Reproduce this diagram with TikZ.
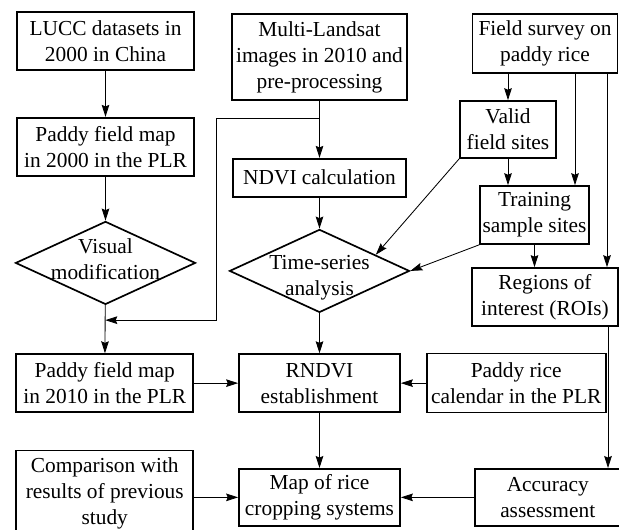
\documentclass[tikz,border=0pt]{standalone}
\usepackage{fontspec}
\setmainfont{Liberation Serif}
\usepackage{tikz}
\usetikzlibrary{positioning,shapes.geometric,arrows.meta,calc}

\begin{document}
\begin{tikzpicture}[x=0.025cm, y=-0.025cm,
    font=\fontsize{15.2}{18.5}\selectfont,
    box/.style={rectangle,draw,line width=1.2pt,align=center,inner sep=1pt},
    decision/.style={diamond,draw,line width=1.2pt,minimum width=4.5cm,minimum height=2.075cm,inner sep=0pt},
    flow/.style={-{Stealth[length=3mm,width=1.9mm,inset=0.4mm]},line width=0.6pt}]

    \useasboundingbox (0,0) rectangle (619,530);

    % left column
    \node[box,minimum width=4.425cm,minimum height=1.45cm] (lucc) at (105.5,41) {LUCC datasets in\\2000 in China};
    \node[box,minimum width=4.425cm,minimum height=1.45cm,below=1.15cm of lucc] (map2000) {Paddy field map\\in 2000 in the PLR};
    \node[decision,below=1.1cm of map2000,label={[align=center,yshift=0.09cm]center:Visual\\modification}] (visual) {};

    % middle column
    \node[box,minimum width=4.375cm,minimum height=2.15cm] (landsat) at (319.5,57) {Multi-Landsat\\images in 2010 and\\pre-processing};
    \node[box,minimum width=4.325cm,minimum height=0.95cm,below=1.425cm of landsat] (ndvi) {NDVI calculation};
    \node[decision,below=0.775cm of ndvi,label={[align=center,yshift=-0.17cm]center:Time-series\\analysis}] (series) {};
    \node[box,minimum width=4.025cm,minimum height=1.45cm,below=1cm of series] (rndvi) {RNDVI\\establishment};
    \node[box,minimum width=4.025cm,minimum height=1.425cm,below=1.375cm of rndvi] (ricemap) {Map of rice\\cropping systems};

    % bottom rows
    \node[box,minimum width=4.425cm,minimum height=1.45cm,left=1.1cm of rndvi] (map2010) {Paddy field map\\in 2010 in the PLR};
    \node[box,minimum width=4.425cm,minimum height=2.15cm,left=1.1cm of ricemap,yshift=0.1cm] (compare) {Comparison with\\results of previous\\study};
    \node[box,minimum width=4.475cm,minimum height=1.475cm,right=0.625cm of rndvi] (calendar) {Paddy rice\\calendar in the PLR};
    \node[box,minimum width=3.65cm,minimum height=1.425cm,right=1.825cm of ricemap] (accuracy) {Accuracy\\assessment};

    % right column
    \node[box,minimum width=3.625cm,minimum height=1.475cm] (survey) at (545,43.5) {Field survey on\\paddy rice};
    \node[box,minimum width=2.4cm,minimum height=1.425cm] (valid) at (508,129.5) {Valid\\field sites};
    \node[box,minimum width=2.725cm,minimum height=1.45cm] (training) at (534.5,215) {Training\\sample sites};
    \node[box,minimum width=3.65cm,minimum height=1.45cm] (roi) at (545,297) {Regions of\\interest (ROIs)};

    % helper points
    \coordinate[below=0.45cm of landsat] (fork);
    \coordinate[left=2.575cm of fork] (forkleft);
    \coordinate (join) at ($(visual.south)!0.31!(map2010.north)$);

    % main flow
    \draw[flow] (lucc) -- (map2000);
    \draw[flow] (map2000) -- (visual);
    \draw[flow] (visual) -- (map2010);
    \draw[flow] (landsat) -- (ndvi);
    \draw[flow] (fork) -- (forkleft) |- (join);
    \draw[flow] (ndvi) -- (series);
    \draw[flow] (series) -- (rndvi);
    \draw[flow] (rndvi) -- (ricemap);
    \draw[flow] (map2010) -- (rndvi);
    \draw[flow] (calendar) -- (rndvi);
    \draw[flow] (compare.east |- ricemap) -- (ricemap);
    \draw[flow] (accuracy) -- (ricemap);

    % field data
    \draw[flow] (survey.south -| valid.north) -- (valid.north);
    \draw[flow] ([xshift=0.75cm]survey.south) -- ([xshift=0.75cm]survey.south |- training.north);
    \draw[flow] ([xshift=1.55cm]survey.south) -- ([xshift=1.55cm]survey.south |- roi.north);
    \draw[flow] (valid.south) -- (valid.south |- training.north);
    \draw[flow] (training.south) -- (training.south |- roi.north);
    \draw[flow] ([xshift=1.575cm]roi.south) -- ([xshift=1.575cm]roi.south |- accuracy.north);
    \draw[flow] (valid.south west) -- (series.16);
    \draw[flow] (training.south west) -- (series.east);

\end{tikzpicture}
\end{document}
